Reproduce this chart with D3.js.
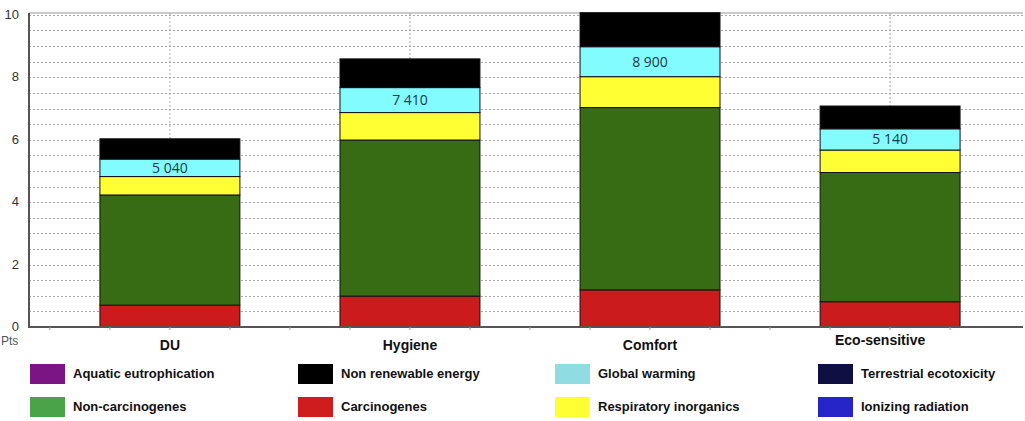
<!DOCTYPE html>
<html>
<head>
<meta charset="utf-8">
<script src="https://cdn.jsdelivr.net/npm/d3@7"></script>
<style>
  body { margin: 0; background: #fff; }
  svg { display: block; }
</style>
</head>
<body>
<svg id="chart" width="1025" height="421"></svg>
<script>
// data (segment heights, Pts)
const categories = ["DU", "Hygiene", "Comfort", "Eco-sensitive"];
const carcinogenes = [0.70, 0.99, 1.19, 0.81];
const nonCarcinogenes = [3.53, 5.00, 5.84, 4.14];
const respiratory = [0.59, 0.88, 0.99, 0.72];
const globalWarming = [0.56, 0.80, 0.96, 0.68];
const nonRenewable = [0.65, 0.92, 1.09, 0.73];
const totalLabels = ["5 040", "7 410", "8 900", "5 140"];
const yTicks = [0, 2, 4, 6, 8, 10];

const legendRow1 = ["Aquatic eutrophication", "Non renewable energy", "Global warming", "Terrestrial ecotoxicity"];
const legendRow2 = ["Non-carcinogenes", "Carcinogenes", "Respiratory inorganics", "Ionizing radiation"];
const legendColors1 = ["#7b1585", "#000000", "#8fdde3", "#0e0f42"];
const legendColors2 = ["#4aa347", "#cf1c1c", "#ffff33", "#2626c8"];

const keys = ["carc", "nonCarc", "resp", "gw", "nre"];
const segColor = {carc: "#cc1b1d", nonCarc: "#386c14", resp: "#ffff33", gw: "#82fcff", nre: "#000000"};

const table = categories.map((c, i) => ({
  cat: c,
  carc: carcinogenes[i],
  nonCarc: nonCarcinogenes[i],
  resp: respiratory[i],
  gw: globalWarming[i],
  nre: nonRenewable[i]
}));

const svg = d3.select("#chart");
const plotL = 29, plotR = 1023, plotT = 13, plotB = 327;

const x = d3.scaleBand()
  .domain(categories)
  .range([50, 1010])
  .paddingInner(0.417)
  .paddingOuter(0.208);

const y = d3.scaleLinear()
  .domain([0, 10.06])
  .range([plotB, plotT]);

// horizontal dotted grid every 0.5
const grid = svg.append("g");
grid.selectAll("line.h")
  .data(d3.range(0.5, 10.01, 0.5))
  .join("line")
  .attr("class", "h")
  .attr("x1", plotL).attr("x2", plotR)
  .attr("y1", d => Math.round(y(d)) + 0.5)
  .attr("y2", d => Math.round(y(d)) + 0.5)
  .attr("stroke", "#a8a8a8")
  .attr("stroke-width", 1)
  .attr("stroke-dasharray", "2,2");

// vertical dotted grid at bar centres
grid.selectAll("line.v")
  .data(categories)
  .join("line")
  .attr("class", "v")
  .attr("x1", d => x(d) + x.bandwidth() / 2)
  .attr("x2", d => x(d) + x.bandwidth() / 2)
  .attr("y1", plotT).attr("y2", plotB)
  .attr("stroke", "#a8a8a8")
  .attr("stroke-dasharray", "2,2");

// top frame
svg.append("line")
  .attr("x1", plotL).attr("x2", plotR)
  .attr("y1", plotT).attr("y2", plotT)
  .attr("stroke", "#999");

// stacked bars
const series = d3.stack().keys(keys)(table);

svg.append("g")
  .selectAll("g")
  .data(series)
  .join("g")
  .attr("fill", d => segColor[d.key])
  .selectAll("rect")
  .data(d => d)
  .join("rect")
  .attr("x", d => x(d.data.cat))
  .attr("y", d => y(d[1]))
  .attr("width", x.bandwidth())
  .attr("height", d => y(d[0]) - y(d[1]))
  .attr("stroke", "#111")
  .attr("stroke-width", 1);

// labels inside the global warming segment
const gwSeries = series.find(s => s.key === "gw");
svg.append("g")
  .selectAll("text")
  .data(gwSeries)
  .join("text")
  .attr("x", d => x(d.data.cat) + x.bandwidth() / 2)
  .attr("y", d => (y(d[0]) + y(d[1])) / 2 + 5)
  .attr("text-anchor", "middle")
  .attr("font-family", "'Open Sans', sans-serif")
  .attr("font-size", "14px")
  .attr("fill", "#1b3a44")
  .text((d, i) => totalLabels[i]);

// y axis
svg.append("line")
  .attr("x1", plotL).attr("x2", plotL)
  .attr("y1", plotT).attr("y2", plotB)
  .attr("stroke", "#555").attr("stroke-width", 2);

svg.append("g")
  .selectAll("text")
  .data(yTicks)
  .join("text")
  .attr("x", 19)
  .attr("y", d => y(d) + 4)
  .attr("text-anchor", "end")
  .attr("font-family", "'Liberation Sans', Arial, sans-serif")
  .attr("font-size", "13px")
  .attr("fill", "#333")
  .text(d => d);

// x axis baseline and small ticks
svg.append("line")
  .attr("x1", plotL - 1).attr("x2", plotR)
  .attr("y1", plotB).attr("y2", plotB)
  .attr("stroke", "#555").attr("stroke-width", 2);

const step = x.step();
const tickPos = d3.range(0, 16).map(i => x(categories[0]) - step * x.paddingInner() / 2 + i * step / 4);
svg.append("g")
  .selectAll("line")
  .data(tickPos)
  .join("line")
  .attr("x1", d => d).attr("x2", d => d)
  .attr("y1", plotB).attr("y2", plotB + 3)
  .attr("stroke", "#999");

svg.append("text")
  .attr("x", 1).attr("y", 345)
  .attr("font-family", "'Liberation Sans Narrow', 'Liberation Sans', sans-serif")
  .attr("font-size", "12px")
  .attr("fill", "#555")
  .text("Pts");

svg.append("g")
  .selectAll("text")
  .data(categories)
  .join("text")
  .attr("x", d => x(d) + x.bandwidth() / 2 - (d === "Eco-sensitive" ? 10 : 0))
  .attr("y", d => d === "Eco-sensitive" ? 345 : 350)
  .attr("text-anchor", "middle")
  .attr("font-family", "'Liberation Sans', Arial, sans-serif")
  .attr("font-weight", "bold")
  .attr("font-size", "14px")
  .attr("fill", "#111")
  .text(d => d);

// legend
const legendX = [30, 298, 555, 818];
const legendY = [364, 397];
const legendRows = [
  legendRow1.map((t, i) => ({t, c: legendColors1[i], col: i, row: 0})),
  legendRow2.map((t, i) => ({t, c: legendColors2[i], col: i, row: 1}))
].flat();

const lg = svg.append("g")
  .selectAll("g")
  .data(legendRows)
  .join("g")
  .attr("transform", d => `translate(${legendX[d.col]}, ${legendY[d.row]})`);

lg.append("rect")
  .attr("width", 35)
  .attr("height", 20)
  .attr("fill", d => d.c);

lg.append("text")
  .attr("x", 43)
  .attr("y", 14)
  .attr("font-family", "'Liberation Sans Narrow', 'Liberation Sans', sans-serif")
  .attr("font-weight", "bold")
  .attr("font-size", "13px")
  .attr("fill", "#111")
  .text(d => d.t);
</script>
</body>
</html>
